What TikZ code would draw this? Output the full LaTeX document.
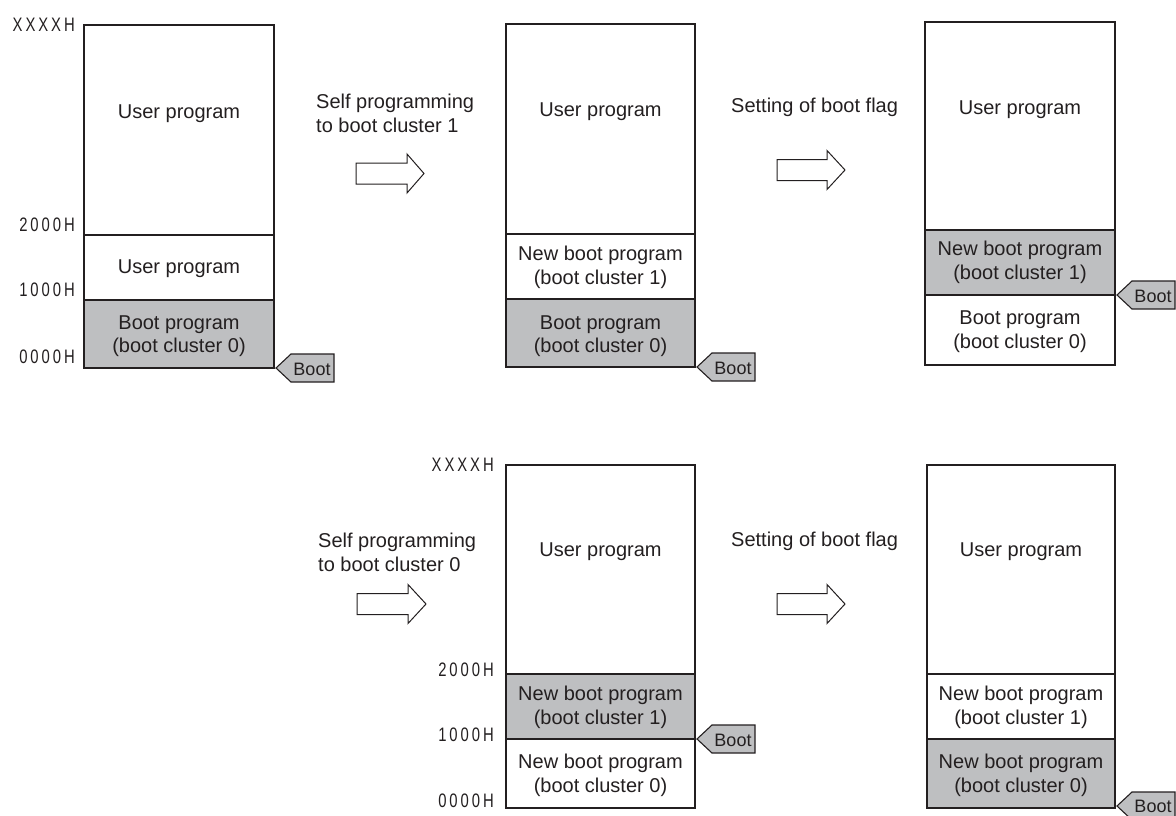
\documentclass[tikz,border=0pt]{standalone}
\usepackage{fontspec}
\usepackage{graphicx}
\setmainfont{Liberation Sans}
\newfontfamily\addrfont{Liberation Sans}[LetterSpace=20]
\usetikzlibrary{calc}
\definecolor{ink}{RGB}{35,31,32}
\definecolor{cellgray}{RGB}{190,191,193}
\tikzset{
  lbl/.style={font=\fontsize{20}{23.5}\selectfont, text=ink, align=center, inner sep=0pt},
  note/.style={font=\fontsize{20}{23.5}\selectfont, text=ink, align=left, inner sep=0pt, anchor=west},
  addr/.style={font=\addrfont\fontsize{19.5}{19.5}\selectfont, text=ink, inner sep=0pt, anchor=east},
  boottxt/.style={font=\fontsize{18}{18}\selectfont, text=ink, inner sep=0pt},
  frame/.style={draw=ink, line width=2.6pt},
  divider/.style={draw=ink, line width=1.1pt},
  grayfill/.style={fill=cellgray},
  tag/.style={draw=ink, fill=cellgray, line width=1.1pt, line join=miter},
  blockarrow/.style={draw=ink, fill=white, line width=1pt, line join=miter},
}
\newcommand{\addrtxt}[1]{\scalebox{0.76}[1]{#1}}
\begin{document}
\begin{tikzpicture}[x=1pt, y=-1pt]
\useasboundingbox (0,0) rectangle (1176,816);
\clip (0,0) rectangle (1176,816);

% ---------- Panel 1 ----------
\path[grayfill] (84,300) rectangle (274,368);
\draw[divider] (84,235) -- (274,235);
\draw[divider] (84,300) -- (274,300);
\draw[frame] (84,25) rectangle (274,368);
\node[lbl] (p1a) at (179,114) {User program};
\node[lbl] (p1b) at (179,269) {User program};
\node[lbl] (p1c) at (179,336) {Boot program\\(boot cluster 0)};
\node[addr] (p1x) at (75,25) {\addrtxt{XXXXH}};
\node[addr] (p1y) at (75,225) {\addrtxt{2000H}};
\node[addr] (p1z) at (75,290) {\addrtxt{1000H}};
\node[addr] (p1w) at (75,357) {\addrtxt{0000H}};
\coordinate (t1) at (276,368);
\draw[tag] (t1) -- ++(15,-14) -- ++(43,0) -- ++(0,28) -- ++(-43,0) -- cycle;
\node[boottxt] (b1) at ($(t1)+(36,1)$) {Boot};

% ---------- Arrow 1 ----------
\node[note] (n1) at (316,113.5) {Self programming\\to boot cluster 1};
\draw[blockarrow, shift={(356,173.5)}] (0,-10.5) -- (51,-10.5) -- (51,-19.5) -- (68,0) -- (51,19.5) -- (51,10.5) -- (0,10.5) -- cycle;

% ---------- Panel 2 ----------
\path[grayfill] (506,299) rectangle (695,367);
\draw[divider] (506,234) -- (695,234);
\draw[divider] (506,299) -- (695,299);
\draw[frame] (506,24) rectangle (695,367);
\node[lbl] (p2a) at (600.5,112) {User program};
\node[lbl] (p2b) at (600.5,267.5) {New boot program\\(boot cluster 1)};
\node[lbl] (p2c) at (600.5,336) {Boot program\\(boot cluster 0)};
\coordinate (t2) at (697,367);
\draw[tag] (t2) -- ++(15,-14) -- ++(43,0) -- ++(0,28) -- ++(-43,0) -- cycle;
\node[boottxt] (b2) at ($(t2)+(36,1)$) {Boot};

% ---------- Arrow 2 ----------
\node[note] (n2) at (731,107) {Setting of boot flag};
\draw[blockarrow, shift={(777,170)}] (0,-10.5) -- (50,-10.5) -- (50,-19.5) -- (68,0) -- (50,19.5) -- (50,10.5) -- (0,10.5) -- cycle;

% ---------- Panel 3 ----------
\path[grayfill] (925,230) rectangle (1115,295);
\draw[divider] (925,230) -- (1115,230);
\draw[divider] (925,295) -- (1115,295);
\draw[frame] (925,22) rectangle (1115,365);
\node[lbl] (p3a) at (1020,110) {User program};
\node[lbl] (p3b) at (1020,262.5) {New boot program\\(boot cluster 1)};
\node[lbl] (p3c) at (1020,331.5) {Boot program\\(boot cluster 0)};
\coordinate (t3) at (1117,295);
\draw[tag] (t3) -- ++(15,-14) -- ++(43,0) -- ++(0,28) -- ++(-43,0) -- cycle;
\node[boottxt] (b3) at ($(t3)+(36,1)$) {Boot};

% ---------- Arrow 3 ----------
\node[note] (n3) at (318,552.5) {Self programming\\to boot cluster 0};
\draw[blockarrow, shift={(357,604)}] (0,-10.5) -- (51,-10.5) -- (51,-19.5) -- (69,0) -- (51,19.5) -- (51,10.5) -- (0,10.5) -- cycle;

% ---------- Panel 4 ----------
\path[grayfill] (506,674) rectangle (695,739);
\draw[divider] (506,674) -- (695,674);
\draw[divider] (506,739) -- (695,739);
\draw[frame] (506,465) rectangle (695,808);
\node[lbl] (p4a) at (600.5,552) {User program};
\node[lbl] (p4b) at (600.5,707.5) {New boot program\\(boot cluster 1)};
\node[lbl] (p4c) at (600.5,775.5) {New boot program\\(boot cluster 0)};
\node[addr] (p4x) at (494,465) {\addrtxt{XXXXH}};
\node[addr] (p4y) at (494,670) {\addrtxt{2000H}};
\node[addr] (p4z) at (494,735) {\addrtxt{1000H}};
\node[addr] (p4w) at (494,801) {\addrtxt{0000H}};
\coordinate (t4) at (697,739);
\draw[tag] (t4) -- ++(15,-14) -- ++(43,0) -- ++(0,28) -- ++(-43,0) -- cycle;
\node[boottxt] (b4) at ($(t4)+(36,1)$) {Boot};

% ---------- Arrow 4 ----------
\node[note] (n4) at (731,541) {Setting of boot flag};
\draw[blockarrow, shift={(777,604)}] (0,-10.5) -- (50,-10.5) -- (50,-19.5) -- (68,0) -- (50,19.5) -- (50,10.5) -- (0,10.5) -- cycle;

% ---------- Panel 5 ----------
\path[grayfill] (927,739) rectangle (1115,808);
\draw[divider] (927,674) -- (1115,674);
\draw[divider] (927,739) -- (1115,739);
\draw[frame] (927,465) rectangle (1115,808);
\node[lbl] (p5a) at (1021,552) {User program};
\node[lbl] (p5b) at (1021,707.5) {New boot program\\(boot cluster 1)};
\node[lbl] (p5c) at (1021,775.5) {New boot program\\(boot cluster 0)};
\coordinate (t5) at (1117,806);
\draw[tag] (t5) -- ++(15,-14) -- ++(43,0) -- ++(0,28) -- ++(-43,0) -- cycle;
\node[boottxt] (b5) at ($(t5)+(36,0)$) {Boot};
\end{tikzpicture}
\end{document}
